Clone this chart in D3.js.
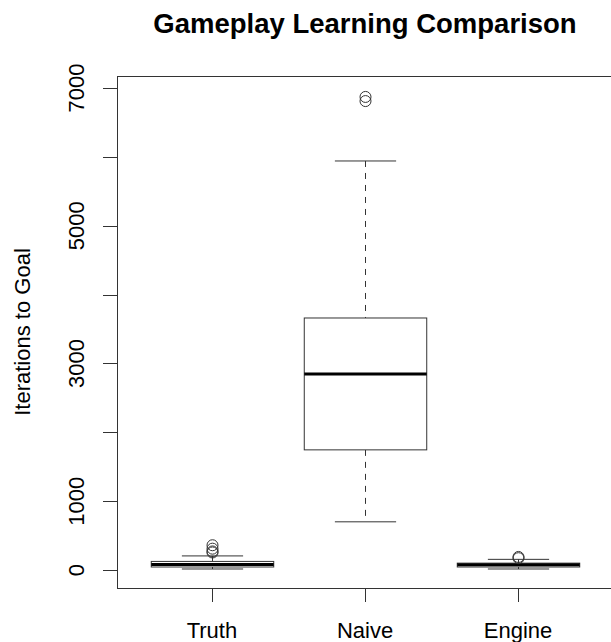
<!DOCTYPE html>
<html>
<head>
<meta charset="utf-8">
<script src="https://cdn.jsdelivr.net/npm/d3@7"></script>
<style>
  body { margin: 0; background: #fff; }
  text { font-family: "Liberation Sans", Arial, Helvetica, sans-serif; fill: #000; }
</style>
</head>
<body>
<div id="chart"></div>
<script>
// boxplot stats (R style: whisker, hinges, median, outliers)
const groups = ['Truth', 'Naive', 'Engine'];
const lowWhisker = [15, 700, 15];
const lowerHinge = [44, 1745, 44];
const medians = [80, 2845, 75];
const upperHinge = [125, 3660, 100];
const highWhisker = [205, 5940, 155];
const outliers = [
  [360, 310, 270, 255],
  [6870, 6810],
  [190, 172]
];
const yTicks = [0, 1000, 2000, 3000, 4000, 5000, 6000, 7000];
const yTickLabels = [0, 1000, 3000, 5000, 7000];

const width = 611;
const height = 642;
const margin = {top: 76, right: -2, bottom: 54, left: 117};

const svg = d3.select('#chart')
  .append('svg')
    .attr('width', width)
    .attr('height', height);

// R pads the range by 4% each side
const xScale = d3.scaleLinear()
  .domain([0.38, 3.62])
  .range([margin.left, width - margin.right]);

const yScale = d3.scaleLinear()
  .domain([-261, 7174])
  .range([height - margin.bottom, margin.top]);

// box is 0.8 of a group slot, caps half of that
const boxW = xScale(1.8) - xScale(1);
const capW = boxW / 2;

// plot frame
svg.append('rect')
  .attr('x', margin.left + 0.5)
  .attr('y', margin.top + 0.5)
  .attr('width', xScale.range()[1] - margin.left)
  .attr('height', yScale.range()[0] - margin.top)
  .attr('fill', 'none')
  .attr('stroke', '#333')
  .attr('stroke-width', 1);

// y axis
const yAxis = svg.append('g');
yTicks.forEach(t => {
  const y = Math.round(yScale(t)) + 0.5;
  yAxis.append('line')
    .attr('x1', margin.left - 14).attr('x2', margin.left)
    .attr('y1', y).attr('y2', y)
    .attr('stroke', '#333');
});
yTickLabels.forEach(t => {
  yAxis.append('text')
    .attr('transform', 'translate(84,' + yScale(t) + ') rotate(-90)')
    .attr('text-anchor', 'middle')
    .style('font-size', '22px')
    .text(t);
});

// x axis ticks
groups.forEach((g, i) => {
  const x = Math.round(xScale(i + 1)) + 0.5;
  svg.append('line')
    .attr('x1', x).attr('x2', x)
    .attr('y1', yScale.range()[0]).attr('y2', yScale.range()[0] + 14)
    .attr('stroke', '#333');
  svg.append('text')
    .attr('x', xScale(i + 1))
    .attr('y', 638)
    .attr('text-anchor', 'middle')
    .style('font-size', '22px')
    .text(g);
});

// boxes
groups.forEach((g, i) => {
  const cx = Math.round(xScale(i + 1)) + 0.5;
  const grp = svg.append('g');

  // whiskers (dashed)
  grp.append('line')
    .attr('x1', cx).attr('x2', cx)
    .attr('y1', yScale(highWhisker[i])).attr('y2', yScale(upperHinge[i]))
    .attr('stroke', '#333')
    .attr('stroke-dasharray', '6,6');
  grp.append('line')
    .attr('x1', cx).attr('x2', cx)
    .attr('y1', yScale(lowerHinge[i])).attr('y2', yScale(lowWhisker[i]))
    .attr('stroke', '#333')
    .attr('stroke-dasharray', '6,6');

  // caps
  [highWhisker[i], lowWhisker[i]].forEach(v => {
    grp.append('line')
      .attr('x1', cx - capW / 2).attr('x2', cx + capW / 2)
      .attr('y1', yScale(v)).attr('y2', yScale(v))
      .attr('stroke', '#333');
  });

  // box
  grp.append('rect')
    .attr('x', cx - boxW / 2)
    .attr('y', yScale(upperHinge[i]))
    .attr('width', boxW)
    .attr('height', yScale(lowerHinge[i]) - yScale(upperHinge[i]))
    .attr('fill', '#fff')
    .attr('stroke', '#333');

  // median
  grp.append('line')
    .attr('x1', cx - boxW / 2).attr('x2', cx + boxW / 2)
    .attr('y1', yScale(medians[i])).attr('y2', yScale(medians[i]))
    .attr('stroke', '#000')
    .attr('stroke-width', 3);

  // outliers
  grp.selectAll('circle')
    .data(outliers[i])
    .enter()
    .append('circle')
      .attr('cx', cx)
      .attr('cy', d => yScale(d))
      .attr('r', 5.5)
      .attr('fill', 'none')
      .attr('stroke', '#333');
});

// title
svg.append('text')
  .attr('x', (margin.left + xScale.range()[1]) / 2)
  .attr('y', 33)
  .attr('text-anchor', 'middle')
  .style('font-size', '27.5px')
  .style('font-weight', 'bold')
  .text('Gameplay Learning Comparison');

// y label
svg.append('text')
  .attr('transform', 'translate(30,' + (margin.top + yScale.range()[0]) / 2 + ') rotate(-90)')
  .attr('text-anchor', 'middle')
  .style('font-size', '22px')
  .text('Iterations to Goal');
</script>
</body>
</html>
